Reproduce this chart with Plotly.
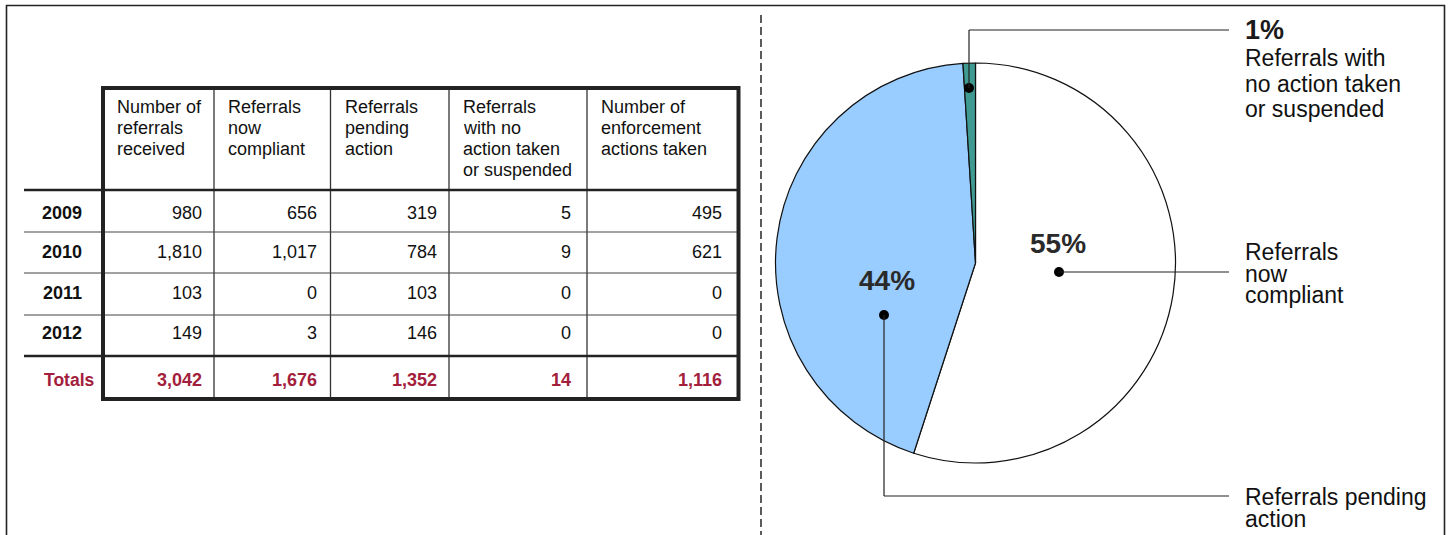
import plotly.graph_objects as go

# ---- table data ----
years = ["2009", "2010", "2011", "2012"]
col_headers = [
    ["Number of", "referrals", "received"],
    ["Referrals", "now", "compliant"],
    ["Referrals", "pending", "action"],
    ["Referrals", "with no", "action taken", "or suspended"],
    ["Number of", "enforcement", "actions taken"],
]
received = [980, 1810, 103, 149]
now_compliant = [656, 1017, 0, 3]
pending_action = [319, 784, 103, 146]
no_action = [5, 9, 0, 0]
enforcement = [495, 621, 0, 0]
totals = [3042, 1676, 1352, 14, 1116]

# ---- pie data (percent shares) ----
pie_names = ["Referrals now compliant", "Referrals pending action",
             "Referrals with no action taken or suspended"]
pie_pct = [55, 44, 1]
pie_colors = ["#ffffff", "#99ccff", "#3f9a92"]

W, H = 1449, 535
FONT = "Arial, Liberation Sans, sans-serif"
RED = "#a3203c"
INK = "#111111"

# table layout (pixel grid)
col_edges = [103, 214, 330.5, 449, 587, 738.5]
value_right = [204, 318.5, 439, 573, 723.5]
header_top, header_bottom = 88, 190
row_lines = [190, 232, 273, 315, 356]
table_bottom = 399
row_centers = [213, 252, 293, 333]
totals_center = 380
label_left = 24

fig = go.Figure()

fig.add_trace(go.Pie(
    labels=pie_names, values=pie_pct, sort=False, direction="clockwise",
    rotation=0, textinfo="none", hoverinfo="skip", showlegend=False,
    marker=dict(colors=pie_colors, line=dict(color="#111111", width=1.2)),
    domain=dict(x=[775.5 / W, 1175.5 / W], y=[(H - 463) / H, (H - 63) / H]),
))

shapes = []
ann = []


def line(x0, y0, x1, y1, w=1.2, color="#222222", dash=None):
    d = dict(type="line", xref="x", yref="y", x0=x0, y0=y0, x1=x1, y1=y1,
             line=dict(color=color, width=w), layer="above")
    if dash:
        d["line"]["dash"] = dash
    shapes.append(d)


def text(x, y, s, size=18, anchor="left", bold=False, color=INK):
    ann.append(dict(xref="x", yref="y", x=x, y=y, text=f"<b>{s}</b>" if bold else s,
                    showarrow=False, xanchor=anchor, yanchor="middle",
                    font=dict(family=FONT, size=size, color=color)))


# outer frame and divider
shapes.append(dict(type="rect", xref="x", yref="y", x0=6.5, y0=5.5, x1=1444.5, y1=545,
                   line=dict(color="#222222", width=1.6), layer="above"))
line(761, 15, 761, 540, w=1.6, color="#333333", dash="8px,4px")

# table grid
for xe in col_edges[1:-1]:
    line(xe, header_top, xe, table_bottom, w=1.3, color="#333333")
for i, ry in enumerate(row_lines):
    thick = i in (0, len(row_lines) - 1)
    line(label_left, ry, col_edges[-1], ry, w=2.6 if thick else 1.2,
         color="#222222" if thick else "#444444")
shapes.append(dict(type="rect", xref="x", yref="y", x0=col_edges[0], y0=header_top,
                   x1=col_edges[-1], y1=table_bottom,
                   line=dict(color="#222222", width=4), layer="above"))

# header cells
for c, lines_ in enumerate(col_headers):
    for j, s in enumerate(lines_):
        text(col_edges[c] + 12, 106.5 + 21 * j, s, size=18)

# body rows
columns = [received, now_compliant, pending_action, no_action, enforcement]
for r, yr in enumerate(years):
    text(62, row_centers[r], yr, size=18, anchor="center", bold=True)
    for c, col in enumerate(columns):
        text(value_right[c], row_centers[r], f"{col[r]:,}", size=18, anchor="right")

text(42, totals_center, "Totals", size=17.5, bold=True, color=RED)
for c, v in enumerate(totals):
    text(value_right[c], totals_center, f"{v:,}", size=18, anchor="right",
         bold=True, color=RED)

# pie callouts
def dot(x, y, r=5):
    shapes.append(dict(type="circle", xref="x", yref="y", x0=x - r, y0=y - r,
                       x1=x + r, y1=y + r, fillcolor="#000000",
                       line=dict(color="#000000", width=0), layer="above"))


dot(969, 88)
line(969, 88, 969, 30)
line(969, 30, 1229, 30)
text(1243, 30, f"{pie_pct[2]}%", size=27, bold=True, color="#1a1a1a")
for j, s in enumerate(["Referrals with", "no action taken", "or suspended"]):
    text(1243, 58 + 25.5 * j, s, size=23)

dot(1059, 272)
line(1059, 272, 1229, 272)
text(1058, 243, f"{pie_pct[0]}%", size=28, bold=True, color="#2a2a2a", anchor="center")
for j, s in enumerate(["Referrals", "now", "compliant"]):
    text(1243, 252 + 21.5 * j, s, size=23)

dot(884, 315)
line(884, 315, 884, 496)
line(884, 496, 1229, 496)
text(887, 280, f"{pie_pct[1]}%", size=28, bold=True, color="#2a2a2a", anchor="center")
for j, s in enumerate(["Referrals pending", "action"]):
    text(1243, 497 + 21.5 * j, s, size=23)

fig.update_layout(
    width=W, height=H, margin=dict(l=0, r=0, t=0, b=0),
    paper_bgcolor="white", plot_bgcolor="white",
    xaxis=dict(range=[0, W], visible=False, fixedrange=True),
    yaxis=dict(range=[H, 0], visible=False, fixedrange=True),
    shapes=shapes, annotations=ann, showlegend=False,
)

fig.write_html("out.html")
